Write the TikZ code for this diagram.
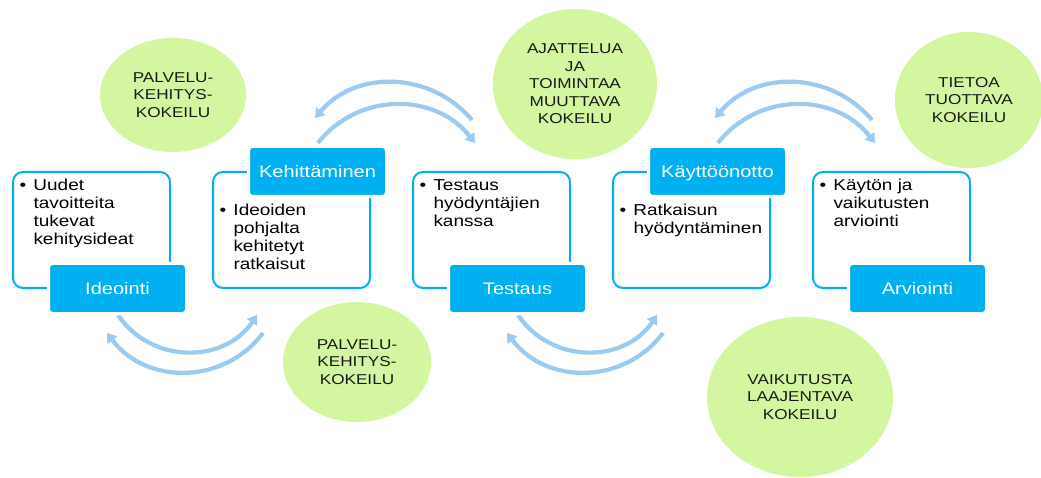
\documentclass[tikz,border=0pt]{standalone}
\usepackage{fontspec}
\setmainfont{Liberation Sans}[FakeStretch=1.2]
\usetikzlibrary{arrows.meta,shapes.geometric}
\definecolor{sablue}{RGB}{0,176,240}
\definecolor{arcblue}{RGB}{155,203,240}
\definecolor{bubblegreen}{RGB}{212,246,160}
\begin{document}
\begin{tikzpicture}[x=1pt,y=-1pt,
  stagebox/.style={draw=sablue, line width=2pt, fill=white, rounded corners=10pt,
    minimum width=157pt, minimum height=116pt, inner sep=0pt},
  stagelabel/.style={fill=sablue, draw=white, line width=3pt, rounded corners=4pt,
    minimum width=138pt, minimum height=50pt, inner sep=0pt, text=white,
    font=\fontsize{16.7}{20}\selectfont, text height=12pt, text depth=0pt},
  bodytext/.style={anchor=base west, inner sep=0pt, font=\fontsize{15.8}{18}\selectfont},
  bubble/.style={ellipse, fill=bubblegreen, inner sep=0pt, align=center,
    font=\fontsize{14.3}{17.8}\selectfont, text=black!90},
  cyclearrow/.style={draw=arcblue, line width=4.2pt, -{Triangle[length=9pt,width=12pt]}},
]
% canvas
\fill[white] (0,0) rectangle (1041,478);
\useasboundingbox (0,0) rectangle (1041,478);

% green bubbles
\node[bubble, minimum width=146pt, minimum height=114pt] (k1) at (173,95) {PALVELU-\\KEHITYS-\\KOKEILU};
\node[bubble, minimum width=164pt, minimum height=150pt, font=\fontsize{14.3}{17.5}\selectfont] (k2) at (575,84) {AJATTELUA\\JA\\TOIMINTAA\\MUUTTAVA\\KOKEILU};
\node[bubble, minimum width=148pt, minimum height=136pt] (k3) at (969,100) {TIETOA\\TUOTTAVA\\KOKEILU};
\node[bubble, minimum width=148pt, minimum height=120pt] (k4) at (357,362) {PALVELU-\\KEHITYS-\\KOKEILU};
\node[bubble, minimum width=186pt, minimum height=160pt] (k5) at (800,397) {VAIKUTUSTA\\LAAJENTAVA\\KOKEILU};

% end points of the circular arrows
\foreach \d/\n in {0/1,400/2} {
  \coordinate (pa\n) at (118+\d,315);
  \coordinate (pb\n) at (257+\d,315);
  \coordinate (qa\n) at (263+\d,333);
  \coordinate (qb\n) at (107+\d,333);
  \coordinate (ra\n) at (318+\d,143);
  \coordinate (rb\n) at (475+\d,143);
  \coordinate (sa\n) at (472+\d,120);
  \coordinate (sb\n) at (315+\d,118);
}
\foreach \n in {1,2} {
  \draw[cyclearrow] (pa\n) .. controls +(33,49) and +(-33,49) .. (pb\n);
  \draw[cyclearrow] (qa\n) .. controls +(-39,52) and +(39,52) .. (qb\n);
  \draw[cyclearrow] (ra\n) .. controls +(40,-51) and +(-40,-51) .. (rb\n);
  \draw[cyclearrow] (sa\n) .. controls +(-41,-48.6) and +(41,-48.6) .. (sb\n);
}

% stage boxes
\node[stagebox] (b1) at (91.5,230) {};
\node[stagebox] (b2) at (291.5,230) {};
\node[stagebox] (b3) at (491.5,230) {};
\node[stagebox] (b4) at (691.5,230) {};
\node[stagebox] (b5) at (891.5,230) {};

% stage labels
\node[stagelabel] (l1) at (117.5,288.5) {Ideointi};
\node[stagelabel] (l2) at (317.5,171.5) {Kehittäminen};
\node[stagelabel] (l3) at (517.5,288.5) {Testaus};
\node[stagelabel] (l4) at (717.5,171.5) {Käyttöönotto};
\node[stagelabel] (l5) at (917.5,288.5) {Arviointi};

% box contents
\newcommand{\stageitem}[1]{\makebox[13.8pt][l]{\textbullet}\parbox[t]{140pt}{\raggedright #1}}
\node[bodytext] (t1) at (19.5,190.6) {\stageitem{Uudet\\tavoitteita\\tukevat\\kehitysideat}};
\node[bodytext] (t2) at (219.5,215.3) {\stageitem{Ideoiden\\pohjalta\\kehitetyt\\ratkaisut}};
\node[bodytext] (t3) at (419.5,190.6) {\stageitem{Testaus\\hyödyntäjien\\kanssa}};
\node[bodytext] (t4) at (619.5,215.3) {\stageitem{Ratkaisun\\hyödyntäminen}};
\node[bodytext] (t5) at (819.5,190.6) {\stageitem{Käytön ja\\vaikutusten\\arviointi}};
\end{tikzpicture}
\end{document}
